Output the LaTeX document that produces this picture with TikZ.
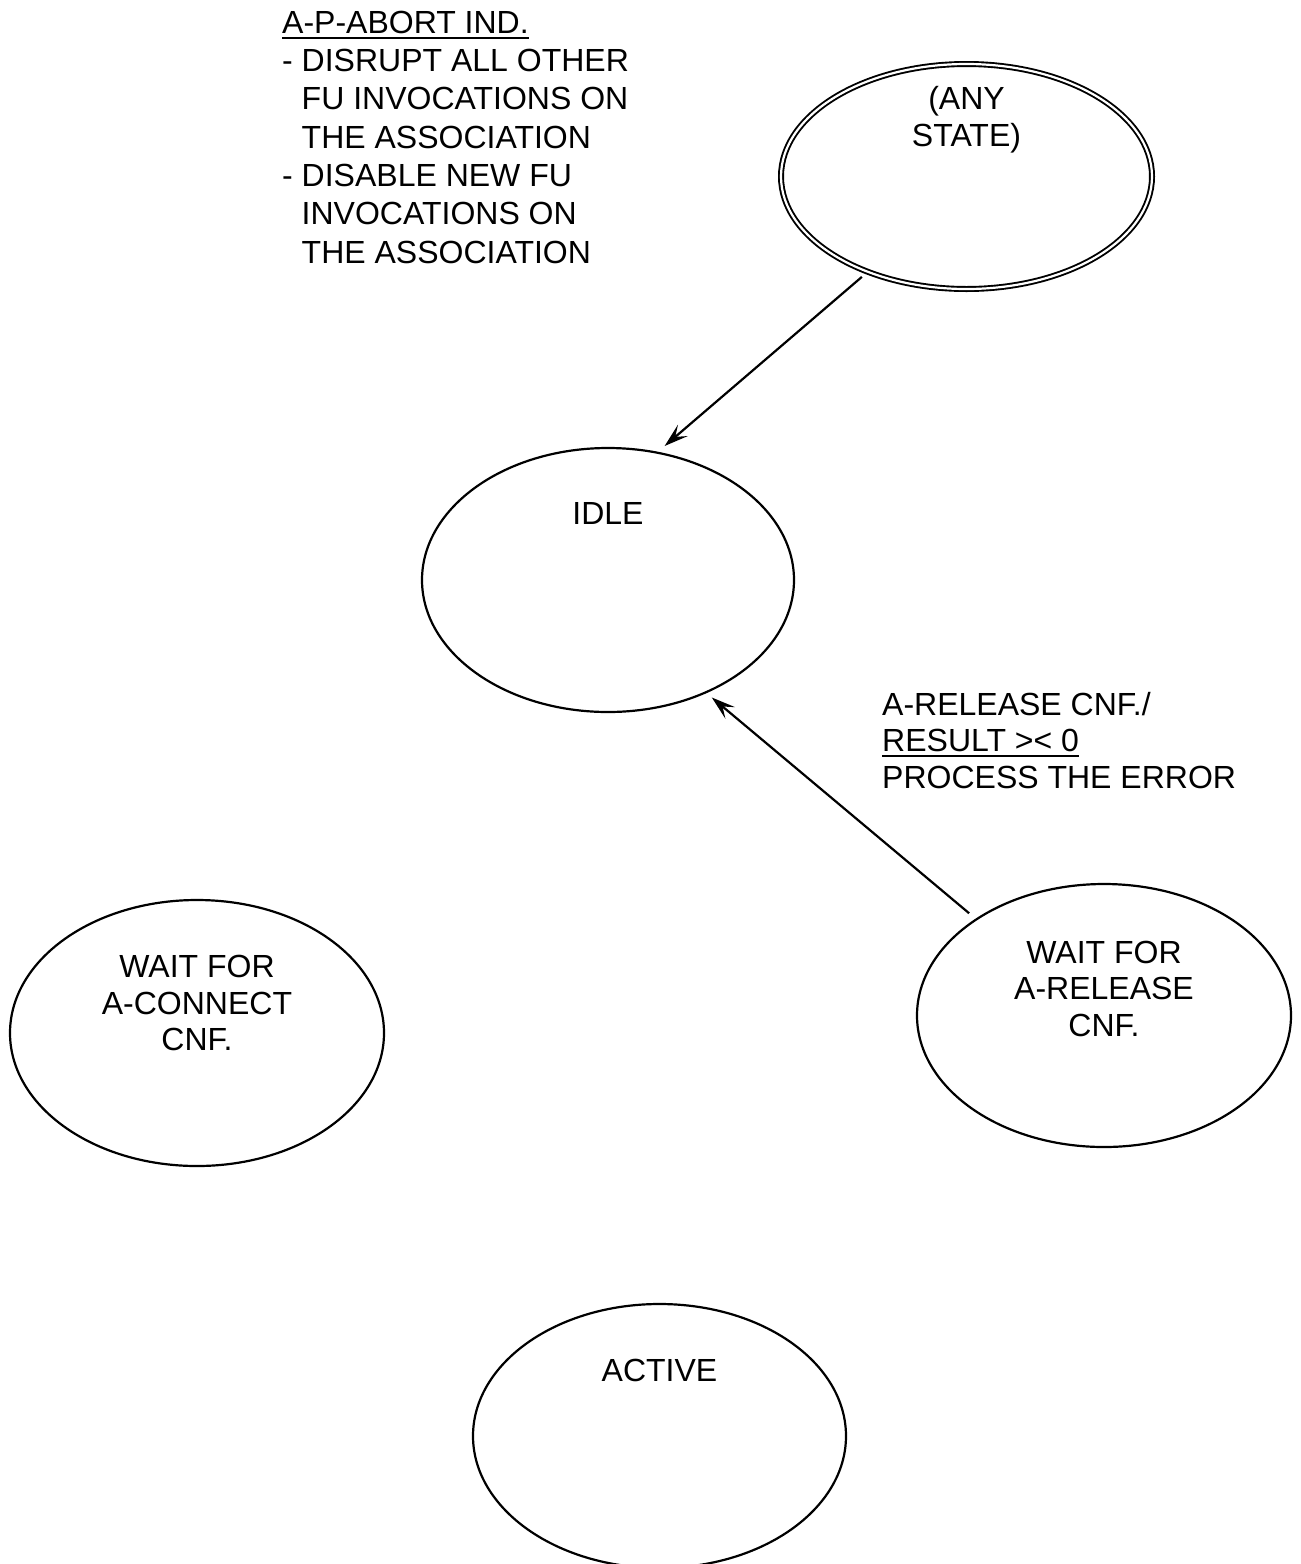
\documentclass[tikz,border=0pt]{standalone}
\usepackage{fontspec}
\setmainfont{Liberation Sans}
\usetikzlibrary{arrows.meta,shapes.geometric}

% underline drawn as a rule just below the baseline
\newsavebox\ulbox
\newcommand\lineunder[1]{\sbox\ulbox{#1}\rlap{\rule[-5.4pt]{\wd\ulbox}{2pt}}\usebox\ulbox}

\begin{document}
\begin{tikzpicture}[x=1pt,y=-1pt,
  state/.style={draw, ellipse, line width=2.2pt, inner sep=0pt, outer sep=0pt},
  anystate/.style={draw, ellipse, double, line width=1.9pt, double distance=2.2pt,
                   inner sep=0pt, outer sep=0pt},
  statetext/.style={font=\fontsize{32pt}{36.5pt}\selectfont, inner sep=0pt,
                    align=center, anchor=base},
  note/.style={font=\fontsize{32pt}{38.3pt}\selectfont, inner sep=0pt,
               align=left, anchor=base west},
  trans/.style={-{Stealth[length=24pt,width=15pt,inset=10pt]}, line width=2.2pt}]

\useasboundingbox (0,0) rectangle (1301,1564);

% states
\node[anystate, minimum width=371pt, minimum height=225pt] (any) at (966.5,176.5) {};
\node[state, minimum width=372pt, minimum height=264pt] (idle) at (608,580) {};
\node[state, minimum width=374pt, minimum height=266pt] (waitconn) at (197,1033) {};
\node[state, minimum width=374pt, minimum height=263pt] (waitrel) at (1104,1015.5) {};
\node[state, minimum width=373pt, minimum height=264pt] (active) at (659.5,1436) {};

% state names (anchored at the baseline of their last line)
\node[statetext] (anyname) at (966.5,146) {(ANY\\STATE)};
\node[statetext] (idlename) at (608,524.5) {IDLE};
\node[statetext] (waitconnname) at (197,1050.5) {WAIT FOR\\A-CONNECT\\CNF.};
\node[statetext] (waitrelname) at (1104,1036) {WAIT FOR\\A-RELEASE\\CNF.};
\node[statetext] (activename) at (659.5,1381.5) {ACTIVE};

% transition labels
\node[note] (abortnote) at (282,263) {\lineunder{A-P-ABORT IND.}\\
  - DISRUPT ALL OTHER\\
  \phantom{- }FU INVOCATIONS ON\\
  \phantom{- }THE ASSOCIATION\\
  - DISABLE NEW FU\\
  \phantom{- }INVOCATIONS ON\\
  \phantom{- }THE ASSOCIATION};
\node[note, font=\fontsize{32pt}{36.5pt}\selectfont] (releasenote) at (882,788)
  {A-RELEASE CNF./\\\lineunder{RESULT >< 0}\\PROCESS THE ERROR};

% transitions
\draw[trans, shorten <=7.9pt, shorten >=10.2pt] (any.224.7) -- (idle.69.2);
\draw[trans, shorten <=9.5pt, shorten >=8pt] (waitrel.143.7) -- (idle.311.4);
\end{tikzpicture}
\end{document}
